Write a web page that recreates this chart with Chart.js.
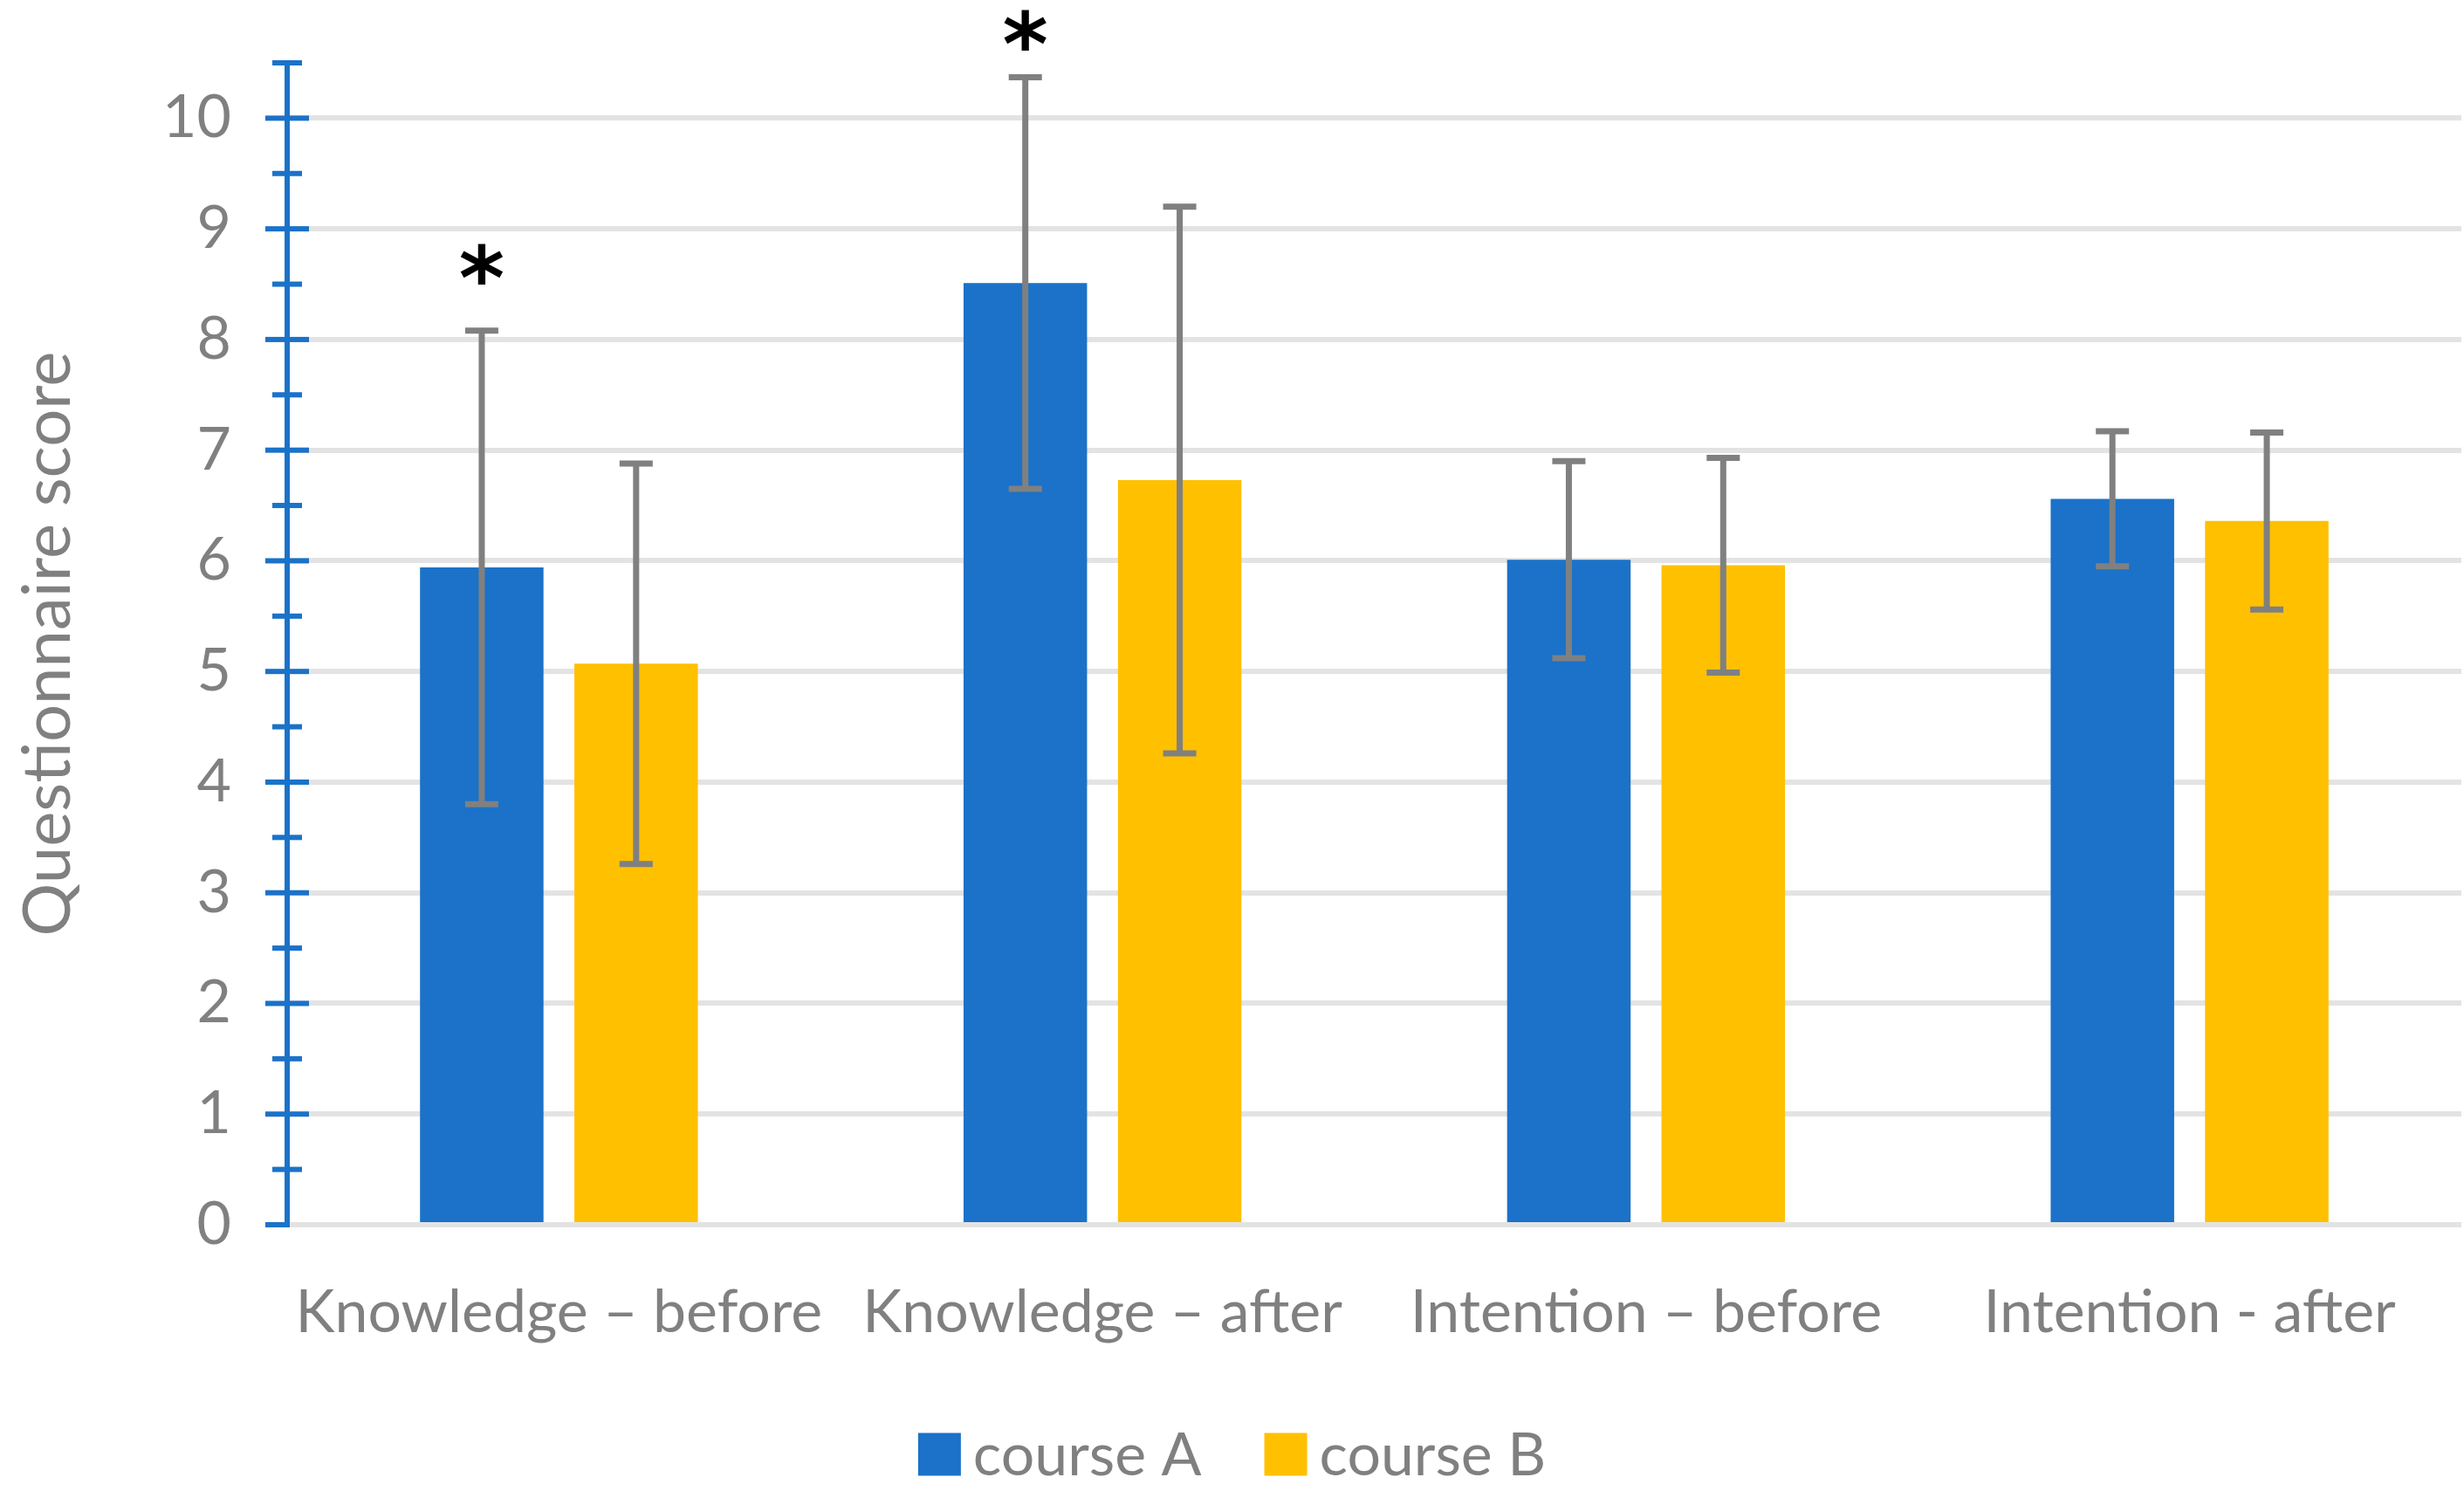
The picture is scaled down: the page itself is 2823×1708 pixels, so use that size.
<!DOCTYPE html>
<html>
<head>
<meta charset="utf-8">
<script src="https://cdn.jsdelivr.net/npm/chart.js@4.4.1/dist/chart.umd.min.js"></script>
<style>
  html, body { margin: 0; padding: 0; background: #fff; }
</style>
</head>
<body>
<canvas id="chart" width="2823" height="1708"></canvas>
<script>
// data
const categories = ["Knowledge – before", "Knowledge – after", "Intention – before", "Intention - after"];
const seriesNames = ["course A", "course B"];
const courseA = [5.94, 8.51, 6.01, 6.56];
const courseB = [5.07, 6.73, 5.96, 6.36];
const courseAErr = [2.14, 1.86, 0.89, 0.61];
const courseBErr = [1.81, 2.47, 0.97, 0.80];
const courseAStars = [8.62, 10.74, null, null]; // where the "*" marks sit
const yMin = 0, yMax = 10.5, yStep = 0.5;

const BLUE = "#1b72c8";
const GOLD = "#ffc000";
const GREY = "#808080";
const FONT = "Lato";

// error bars + significance stars
const errorBars = {
  id: "errorBars",
  afterDatasetsDraw(chart) {
    const ctx = chart.ctx;
    const y = chart.scales.y;
    ctx.save();
    chart.data.datasets.forEach((ds, i) => {
      const meta = chart.getDatasetMeta(i);
      meta.data.forEach((bar, j) => {
        const err = ds.errors[j];
        const hi = y.getPixelForValue(ds.data[j] + err);
        const lo = y.getPixelForValue(ds.data[j] - err);
        ctx.strokeStyle = GREY;
        ctx.lineWidth = 7;
        ctx.beginPath();
        ctx.moveTo(bar.x, hi); ctx.lineTo(bar.x, lo);
        ctx.moveTo(bar.x - 19, hi); ctx.lineTo(bar.x + 19, hi);
        ctx.moveTo(bar.x - 19, lo); ctx.lineTo(bar.x + 19, lo);
        ctx.stroke();
        if (ds.stars && ds.stars[j] != null) {
          ctx.fillStyle = "#000";
          ctx.font = "bold 100px 'DejaVu Sans'";
          ctx.textAlign = "center";
          ctx.textBaseline = "middle";
          ctx.fillText("*", bar.x, y.getPixelForValue(ds.stars[j]) + 18);
        }
      });
    });
    ctx.restore();
  }
};

// Excel style tick marks crossing the value axis
const crossTicks = {
  id: "crossTicks",
  afterDraw(chart) {
    const ctx = chart.ctx;
    const y = chart.scales.y;
    const x0 = chart.chartArea.left;
    ctx.save();
    ctx.fillStyle = BLUE;
    for (let v = yMin; v <= yMax + 1e-9; v += yStep) {
      const py = y.getPixelForValue(v);
      const major = Math.abs(v - Math.round(v)) < 1e-9;
      const half = major ? 25 : 17;
      const right = v === 0 ? 0 : half;
      ctx.fillRect(x0 - half, py - 3, half + right, 6);
    }
    ctx.restore();
  }
};

// legend row under the category labels
const bottomLegend = {
  id: "bottomLegend",
  afterDraw(chart) {
    const ctx = chart.ctx;
    const box = 49, gapText = 14, gapItem = 72, midY = 1666;
    ctx.save();
    ctx.font = "68px " + FONT;
    ctx.textBaseline = "middle";
    ctx.textAlign = "left";
    const items = chart.data.datasets.map(ds => ({
      label: ds.label, color: ds.backgroundColor, w: ctx.measureText(ds.label).width
    }));
    let total = items.reduce((s, it) => s + box + gapText + it.w, 0) + gapItem * (items.length - 1);
    let x = chart.width / 2 - total / 2;
    items.forEach(it => {
      ctx.fillStyle = it.color;
      ctx.fillRect(x, midY - box / 2, box, box);
      x += box + gapText;
      ctx.fillStyle = GREY;
      ctx.fillText(it.label, x, midY + 2);
      x += it.w + gapItem;
    });
    ctx.restore();
  }
};

new Chart(document.getElementById("chart"), {
  type: "bar",
  data: {
    labels: categories,
    datasets: [
      { label: seriesNames[0], data: courseA, errors: courseAErr, stars: courseAStars, backgroundColor: BLUE },
      { label: seriesNames[1], data: courseB, errors: courseBErr, backgroundColor: GOLD }
    ]
  },
  options: {
    responsive: false,
    devicePixelRatio: 1,
    animation: false,
    categoryPercentage: 0.568,
    barPercentage: 0.8,
    layout: { padding: { top: 72, right: 3, left: 0, bottom: 80 } },
    plugins: {
      tooltip: { enabled: false },
      legend: { display: false }
    },
    scales: {
      x: {
        grid: { display: false },
        border: { display: false },
        ticks: { color: GREY, font: { family: FONT, size: 68 }, padding: 52, maxRotation: 0 },
        afterFit(scale) { scale.height = 225; }
      },
      y: {
        min: yMin,
        max: yMax,
        ticks: {
          stepSize: yStep,
          color: GREY,
          font: { family: FONT, size: 68 },
          padding: 0,
          callback: v => Number.isInteger(v) ? v : ""
        },
        grid: {
          drawTicks: true,
          tickLength: 64,
          tickColor: "rgba(0,0,0,0)",
          lineWidth: 6,
          color: c => Number.isInteger(c.tick.value) ? "#e3e3e3" : "rgba(0,0,0,0)"
        },
        border: { color: BLUE, width: 6 },
        title: {
          display: true,
          text: "Questionnaire score",
          color: GREY,
          font: { family: FONT, size: 76 },
          padding: { top: 10, bottom: 4 }
        },
        afterFit(scale) { scale.width = 329; }
      }
    }
  },
  plugins: [errorBars, crossTicks, bottomLegend]
});
</script>
</body>
</html>
